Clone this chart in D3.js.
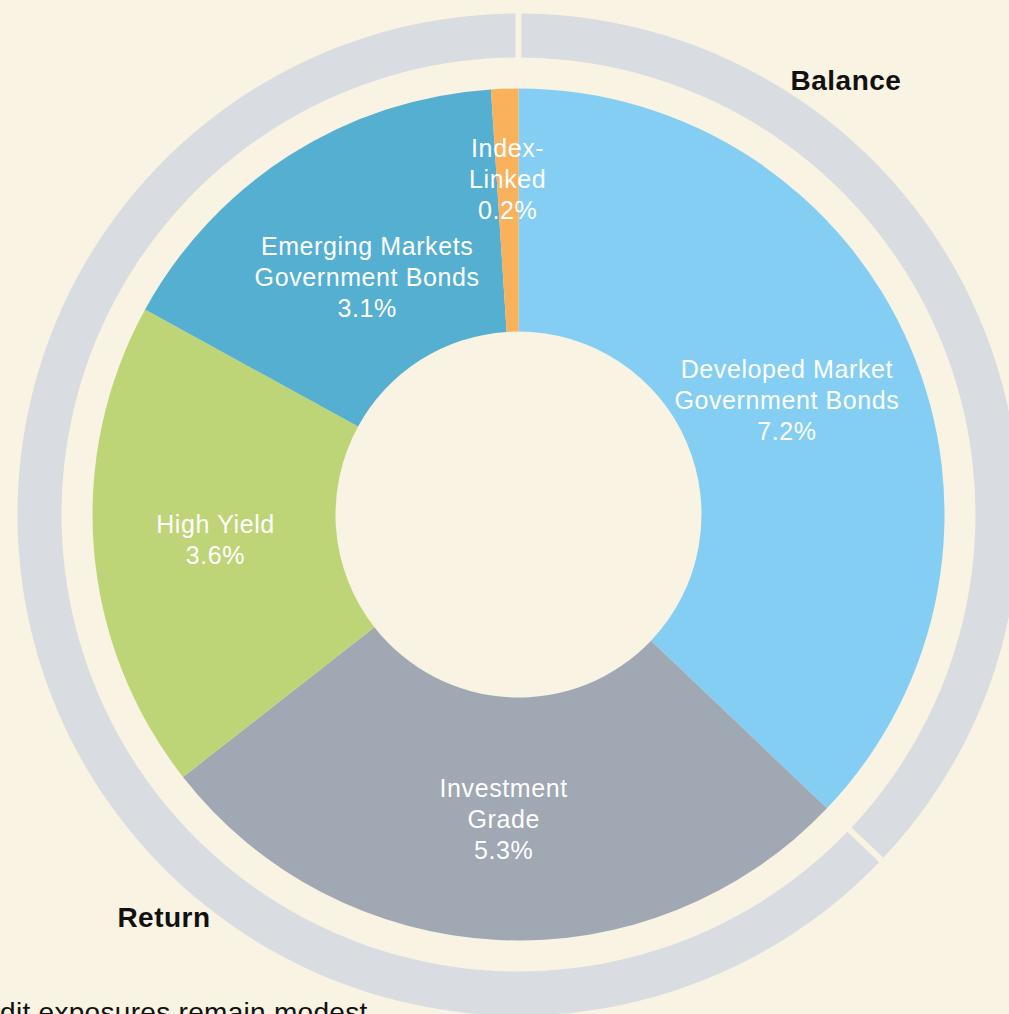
<!DOCTYPE html>
<html>
<head>
<meta charset="utf-8">
<script src="https://cdn.jsdelivr.net/npm/d3@7"></script>
<style>
  body { margin: 0; background: #f8f3e2; overflow: hidden; }
  #chart { width: 1009px; height: 1014px; }
  text { font-family: "Liberation Sans", Arial, Helvetica, sans-serif; }
  .sliceLabel { fill: #ffffff; font-size: 25px; letter-spacing: 0.6px; }
  .ringLabel { fill: #111111; font-size: 28px; font-weight: bold; letter-spacing: 0.5px; }
  .note { fill: #111111; font-size: 28px; letter-spacing: 0.3px; }
</style>
</head>
<body>
<div id="chart"></div>
<script>
// slice data
var categories = ["Developed Market Government Bonds", "Investment Grade", "High Yield",
                  "Emerging Markets Government Bonds", "Index-Linked"];
var labelLines = [["Developed Market", "Government Bonds"], ["Investment", "Grade"], ["High Yield"],
                  ["Emerging Markets", "Government Bonds"], ["Index-", "Linked"]];
var values = [7.2, 5.3, 3.6, 3.1, 0.2];
var colors = ["#84cef4", "#9fa8b3", "#bed577", "#55afd0", "#f9b15b"];

// outer ring
var ringNames = ["Balance", "Return"];
var ringValues = [7.2, 12.2];

var width = 1009;
var height = 1014;
var cx = 518.5, cy = 514.5;

var svg = d3.select("#chart")
    .append("svg")
    .attr("width", width)
    .attr("height", height);

svg.append("rect")
    .attr("width", width)
    .attr("height", height)
    .attr("fill", "#f8f3e2");

var g = svg.append("g")
    .attr("transform", `translate(${cx},${cy})`);

var pie = d3.pie().sort(null).value(function(d) { return d; });

var ringArc = d3.arc()
    .innerRadius(457)
    .outerRadius(501)
    .padAngle(0.012)
    .padRadius(500);

g.selectAll(".ring")
    .data(pie(ringValues))
    .enter()
    .append("path")
        .attr("class", "ring")
        .attr("d", ringArc)
        .attr("fill", "#d9dce0");

var arc = d3.arc()
    .innerRadius(183)
    .outerRadius(426);

var slices = pie(values);

g.selectAll(".slice")
    .data(slices)
    .enter()
    .append("path")
        .attr("class", "slice")
        .attr("d", arc)
        .attr("fill", function(d, i) { return colors[i]; });

// label radius per slice (small nudges so labels sit where the original put them)
var labelRadius = [292, 305, 304, 282, 336];
var lineHeight = 31;

slices.forEach(function(d, i) {
    var a = (d.startAngle + d.endAngle) / 2;
    var x = Math.sin(a) * labelRadius[i];
    var y = -Math.cos(a) * labelRadius[i];
    var lines = labelLines[i].concat([d3.format(".1f")(values[i]) + "%"]);
    var first = y - (lines.length - 1) / 2 * lineHeight + 9;
    var t = g.append("text")
        .attr("class", "sliceLabel")
        .attr("text-anchor", "middle");
    lines.forEach(function(l, j) {
        t.append("tspan")
            .attr("x", x)
            .attr("y", first + j * lineHeight)
            .text(l);
    });
});

// ring labels
svg.append("text")
    .attr("class", "ringLabel")
    .attr("text-anchor", "middle")
    .attr("x", 846)
    .attr("y", 90)
    .text(ringNames[0]);

svg.append("text")
    .attr("class", "ringLabel")
    .attr("text-anchor", "middle")
    .attr("x", 164)
    .attr("y", 927)
    .text(ringNames[1]);

// caption that runs off the bottom edge
svg.append("text")
    .attr("class", "note")
    .attr("x", -46)
    .attr("y", 1022)
    .text("Credit exposures remain modest");
</script>
</body>
</html>
